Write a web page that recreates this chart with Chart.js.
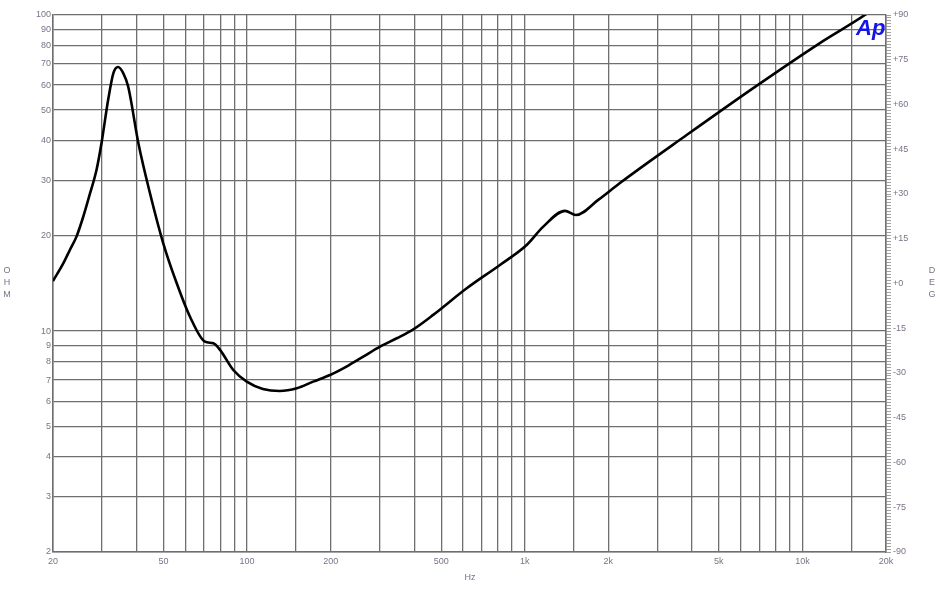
<!DOCTYPE html>
<html>
<head>
<meta charset="utf-8">
<script src="https://cdn.jsdelivr.net/npm/chart.js@4/dist/chart.umd.min.js"></script>
<style>
  html, body { margin: 0; padding: 0; background: #fff; }
  #wrap { width: 940px; height: 600px; }
</style>
</head>
<body>
<div id="wrap"><canvas id="myChart" width="940" height="600"></canvas></div>
<script>
// impedance sweep
const freqs = [20, 21.8, 23.0, 24.3, 25.7, 27.2, 28.7, 29.9, 31.6, 33, 34.3, 35.8, 37.3, 40.6, 44.7, 49.9, 55.8, 62.3,
    70.5, 75.6, 79.9, 89.2, 99.7, 114, 131, 151, 173, 199, 228, 262, 301, 346, 397, 468, 618, 814,
    1016, 1166, 1396, 1528, 1839, 2202, 3828, 6650, 11560, 16780, 20000];
const ohms = [14.4, 16.4, 18.05, 19.9, 23.0, 27.3, 32.4, 39.3, 53.9, 65.5, 68.5, 65.5, 59.4, 39.3, 27.3, 18.96, 14.17, 11.1,
    9.26, 9.15, 8.72, 7.53, 6.92, 6.56, 6.46, 6.59, 6.92, 7.26, 7.72, 8.30, 8.93, 9.49, 10.13, 11.25, 13.66, 16.19,
    18.72, 21.4, 24.0, 23.3, 26.0, 29.4, 41.7, 58.7, 81.5, 100, 112];
const xLabels = [20, 50, 100, 200, 500, 1000, 2000, 5000, 10000, 20000];
const yTicks = [2, 3, 4, 5, 6, 7, 8, 9, 10, 20, 30, 40, 50, 60, 70, 80, 90, 100];
const degMin = -90;
const degMax = 90;

const labelColor = '#7d7088';
const gridColor = '#6f6f6f';
const fontFam = '"Liberation Sans", Arial, sans-serif';

const sideText = {
    id: 'sideText',
    afterDraw(chart) {
        const c = chart.ctx;
        c.save();
        c.fillStyle = labelColor;
        c.font = '9px ' + fontFam;
        c.textAlign = 'center';
        c.textBaseline = 'middle';
        ['O', 'H', 'M'].forEach((ch, i) => c.fillText(ch, 7, 271 + i * 12));
        ['D', 'E', 'G'].forEach((ch, i) => c.fillText(ch, 932, 271 + i * 12));
        c.fillText('Hz', 470, 578);
        c.fillStyle = '#1414e6';
        c.font = 'italic bold 22px ' + fontFam;
        c.textAlign = 'left';
        c.fillText('Ap', 856, 29);
        c.restore();
    }
};

const ctx = document.getElementById('myChart').getContext('2d');
new Chart(ctx, {
    type: 'line',
    data: {
        datasets: [{
            data: freqs.map((f, i) => ({ x: f, y: ohms[i] })),
            borderColor: '#000',
            borderWidth: 2.6,
            pointRadius: 0,
            cubicInterpolationMode: 'monotone',
            yAxisID: 'y'
        }]
    },
    options: {
        responsive: false,
        animation: false,
        layout: { padding: { top: 15, left: 0, right: 0, bottom: 0 } },
        plugins: { legend: { display: false }, tooltip: { enabled: false } },
        scales: {
            x: {
                type: 'logarithmic',
                min: 20,
                max: 20000,
                afterFit: s => { s.height = 48; },
                border: { color: gridColor, width: 1.5 },
                grid: { color: gridColor, lineWidth: 1.3, drawTicks: false },
                ticks: {
                    autoSkip: false,
                    maxRotation: 0,
                    padding: 4,
                    color: labelColor,
                    font: { size: 9, family: fontFam },
                    callback: v => xLabels.includes(v) ? (v >= 1000 ? (v / 1000) + 'k' : String(v)) : ''
                }
            },
            y: {
                type: 'logarithmic',
                position: 'left',
                min: 2,
                max: 100,
                afterFit: s => { s.width = 53; },
                afterBuildTicks: s => { s.ticks = yTicks.map(v => ({ value: v })); },
                border: { color: gridColor, width: 1.5 },
                grid: { color: gridColor, lineWidth: 1.3, drawTicks: false },
                ticks: {
                    autoSkip: false,
                    padding: 2,
                    color: labelColor,
                    font: { size: 9, family: fontFam },
                    callback: v => String(v)
                }
            },
            deg: {
                type: 'linear',
                position: 'right',
                min: degMin,
                max: degMax,
                afterFit: s => { s.width = 54; },
                border: { color: gridColor, width: 1.5 },
                grid: { drawOnChartArea: false, drawTicks: true, tickLength: 5, color: '#a0a0a0' },
                ticks: {
                    stepSize: 1,
                    autoSkip: false,
                    padding: 2,
                    color: labelColor,
                    font: { size: 9, family: fontFam },
                    callback: v => v % 15 === 0 ? (v >= 0 ? '+' + v : String(v)) : ''
                }
            }
        }
    },
    plugins: [sideText]
});
</script>
</body>
</html>
